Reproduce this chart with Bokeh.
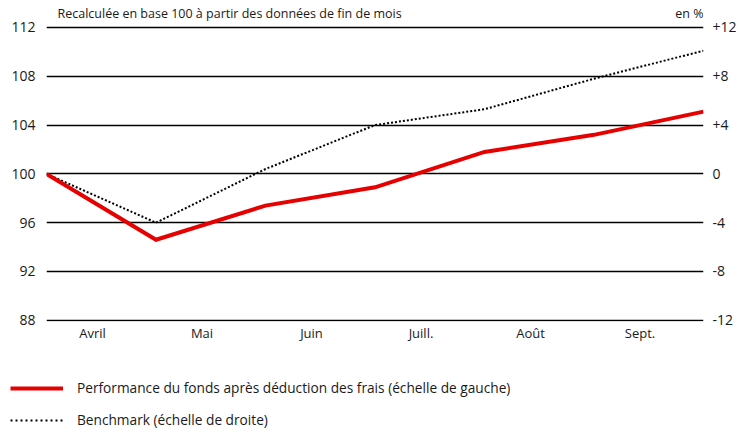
from bokeh.plotting import figure
from bokeh.models import Range1d, LinearAxis, FixedTicker, Label, Legend, LegendItem
from bokeh.layouts import column, row
from bokeh.embed import file_html
from bokeh.resources import INLINE

# ---- data ----
months = ["Avril", "Mai", "Juin", "Juill.", "Août", "Sept."]
period_idx = [0, 1, 2, 3, 4, 5, 6]          # month-end observations
fund = [100.0, 94.6, 97.4, 98.9, 101.8, 103.2, 105.1]      # left scale
benchmark = [0.0, -4.0, 0.4, 4.0, 5.3, 7.8, 10.1]          # right scale, %
left_ticks = [88, 92, 96, 100, 104, 108, 112]
right_ticks = [-12, -8, -4, 0, 4, 8, 12]
right_tick_labels = ["-12", "-8", "-4", "0", "+4", "+8", "+12"]
title_text = "Recalculée en base 100 à partir des données de fin de mois"
unit_text = "en %"
legend_labels = ["Performance du fonds après déduction des frais (échelle de gauche)",
                 "Benchmark (échelle de droite)"]

FONT = "Open Sans"
TXT = "#1a1a1a"
RED = "#e60000"
PAD_LOW = 0.1      # keeps the bottom grid line visible
PAD_TOP = 2.211    # head room for the header text inside the frame

p = figure(width=748, height=351, output_backend="svg", toolbar_location=None,
           x_range=Range1d(0, 6), y_range=Range1d(88 - PAD_LOW, 112 + PAD_TOP),
           min_border_left=46, min_border_right=45, min_border_top=0, min_border_bottom=30)
p.extra_y_ranges = {"right": Range1d(-12 - PAD_LOW, 12 + PAD_TOP)}
p.outline_line_color = None

p.xgrid.visible = False
p.ygrid.ticker = FixedTicker(ticks=left_ticks)
p.ygrid.grid_line_color = "#000000"
p.ygrid.grid_line_width = 1.3


def style_axis(ax, standoff, size):
    ax.axis_line_color = None
    ax.major_tick_line_color = None
    ax.minor_tick_line_color = None
    ax.major_tick_out = 0
    ax.major_tick_in = 0
    ax.minor_tick_out = 0
    ax.major_label_standoff = standoff
    ax.major_label_text_font = FONT
    ax.major_label_text_font_size = size
    ax.major_label_text_color = TXT


la = p.yaxis[0]
la.ticker = FixedTicker(ticks=left_ticks)
style_axis(la, 11, "14px")

ra = LinearAxis(y_range_name="right", ticker=FixedTicker(ticks=right_ticks),
                major_label_overrides={t: s for t, s in zip(right_ticks, right_tick_labels)})
style_axis(ra, 9, "14px")
p.add_layout(ra, "right")

label_pos = [i + 0.42 for i in range(len(months))]
xa = p.xaxis[0]
xa.ticker = FixedTicker(ticks=label_pos)
xa.major_label_overrides = {t: m for t, m in zip(label_pos, months)}
style_axis(xa, 2, "13px")

p.line(period_idx, benchmark, y_range_name="right", line_color="black",
       line_width=2, line_dash="2 2")
p.line(period_idx, fund, line_color=RED, line_width=4, line_join="miter")

p.add_layout(Label(x=0, y=112, x_offset=11, y_offset=14, text=title_text,
                   text_font=FONT, text_font_size="12.5px", text_color=TXT,
                   text_baseline="middle", text_align="left"))
p.add_layout(Label(x=6, y=112, x_offset=0, y_offset=14, text=unit_text,
                   text_font=FONT, text_font_size="12.5px", text_color=TXT,
                   text_baseline="middle", text_align="right"))

# ---- legend strip (its own renderers of the same series, kept out of view) ----
lg = figure(width=748, height=81, output_backend="svg", toolbar_location=None,
            x_range=Range1d(1000, 1748), y_range=Range1d(1000, 1081), min_border=0,
            x_axis_location=None, y_axis_location=None)
lg.grid.visible = False
lg.outline_line_color = None
r1 = lg.line(period_idx, fund, line_color=RED, line_width=4)
r2 = lg.line(period_idx, benchmark, line_color="black", line_width=2, line_dash="2 3")
legend = Legend(items=[LegendItem(label=legend_labels[0], renderers=[r1]),
                       LegendItem(label=legend_labels[1], renderers=[r2])],
                location=(10, 3), orientation="vertical", padding=0, margin=0,
                spacing=13, glyph_width=53, glyph_height=16, label_height=16,
                label_standoff=14, border_line_color=None, background_fill_alpha=0,
                label_text_font=FONT, label_text_font_size="13.7px", label_text_color=TXT)
lg.add_layout(legend, "center")

layout = column(p, row(lg), spacing=0)
open("out.html", "w").write(file_html(layout, INLINE))
